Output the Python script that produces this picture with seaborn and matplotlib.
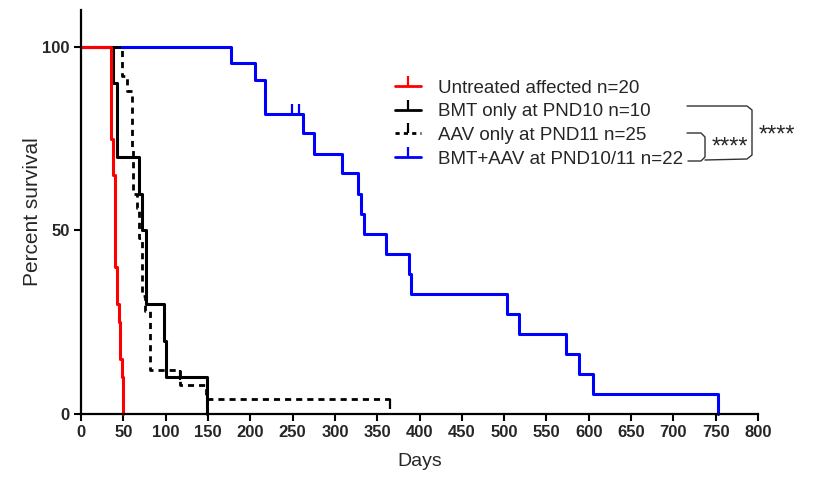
import pandas as pd
import seaborn as sns
import matplotlib.pyplot as plt
from matplotlib.lines import Line2D

# Kaplan-Meier step points (days, percent survival)
untreated_days = [0, 35, 38, 40, 42, 45, 46, 48, 50]
untreated_surv = [100, 75, 65, 40, 30, 25, 15, 10, 0]

bmt_days = [0, 38, 42, 68, 72, 77, 98, 100, 149]
bmt_surv = [100, 90, 70, 60, 50, 30, 20, 10, 0]

aav_days = [0, 49, 54, 60, 62, 66, 69, 72, 76, 81, 117, 148, 365]
aav_surv = [100, 92, 88, 72, 60, 56, 48, 32, 28, 12, 8, 4, 4]
aav_censor_days = [117, 365]
aav_censor_surv = [12, 4]

combo_days = [0, 177, 206, 217, 262, 275, 309, 327, 331, 334, 361, 388, 390,
              503, 518, 573, 588, 605, 753]
combo_surv = [100, 95.5, 90.9, 81.8, 76.4, 70.9, 65.5, 60.0, 54.5, 49.1, 43.6,
              38.2, 32.7, 27.3, 21.8, 16.4, 10.9, 5.5, 0]
combo_censor_days = [249, 258]
combo_censor_surv = [81.8, 81.8]

labels = ['Untreated affected n=20', 'BMT only at PND10 n=10',
          'AAV only at PND11 n=25', 'BMT+AAV at PND10/11 n=22']
colors = ['#ff0000', '#000000', '#000000', '#0000ff']

sns.set_theme(style="ticks")
plt.rcParams['font.family'] = ['Liberation Sans', 'DejaVu Sans']

fig = plt.figure(figsize=(8.15, 4.79), dpi=100)
ax = fig.add_axes([81 / 815, 65 / 479, 677 / 815, 404 / 479])

dfc = pd.DataFrame({'days': combo_days, 'surv': combo_surv})
dfa = pd.DataFrame({'days': aav_days, 'surv': aav_surv})
dfb = pd.DataFrame({'days': bmt_days, 'surv': bmt_surv})
dfu = pd.DataFrame({'days': untreated_days, 'surv': untreated_surv})

sns.lineplot(data=dfc, x='days', y='surv', color=colors[3], lw=2.2,
             drawstyle='steps-post', clip_on=False, ax=ax)
sns.lineplot(data=dfa, x='days', y='surv', color=colors[2], lw=2,
             drawstyle='steps-post', dashes=False, clip_on=False, ax=ax,
             linestyle=(0, (2.2, 1.8)))
sns.lineplot(data=dfb, x='days', y='surv', color=colors[1], lw=2.2,
             drawstyle='steps-post', clip_on=False, ax=ax)
sns.lineplot(data=dfu, x='days', y='surv', color=colors[0], lw=2.2,
             drawstyle='steps-post', clip_on=False, ax=ax)

# censored ticks
ax.plot(combo_censor_days, combo_censor_surv, ls='none', marker=2, ms=7,
        mew=1.6, color=colors[3])
ax.plot(aav_censor_days, aav_censor_surv, ls='none', marker=3, ms=7,
        mew=1.6, color=colors[2])

ax.set_xlim(0, 800)
ax.set_ylim(0, 110)
ax.set_xticks(range(0, 801, 50))
ax.set_yticks([0, 50, 100])
ax.set_xlabel('Days', fontsize=14, labelpad=9)
ax.set_ylabel('Percent survival', fontsize=15, labelpad=0)
for lab in ax.get_xticklabels() + ax.get_yticklabels():
    lab.set_fontweight('bold')
    lab.set_fontsize(12)
ax.tick_params(length=5, width=1.5, color='black', pad=3)
sns.despine(ax=ax)
for s in ['left', 'bottom']:
    ax.spines[s].set_linewidth(1.6)
    ax.spines[s].set_color('black')

handles = [
    Line2D([0], [0], color=colors[0], lw=2, marker=2, ms=7, mew=1.6),
    Line2D([0], [0], color=colors[1], lw=2, marker=2, ms=7, mew=1.6),
    Line2D([0], [0], color=colors[2], lw=2, ls=(0, (1.5, 1.5)), marker=2, ms=7, mew=1.6),
    Line2D([0], [0], color=colors[3], lw=2, marker=2, ms=7, mew=1.6),
]
ax.legend(handles, labels, loc='upper left', bbox_to_anchor=(0.464, 0.828),
          frameon=False, fontsize=13.5, handlelength=1.4, handletextpad=0.9,
          labelspacing=0.35, borderpad=0, borderaxespad=0, numpoints=1)

# significance brackets (pixel positions from top-left of the figure)
def px(x, y):
    return x / 815, 1 - y / 479

big = [(687, 106), (747, 106), (752, 110), (752, 155), (747, 159), (705, 160)]
small = [(687, 133), (701, 133), (705, 137), (705, 157), (701, 161), (688, 161)]
for pts in (big, small):
    xs, ys = zip(*[px(*p) for p in pts])
    fig.add_artist(Line2D(xs, ys, color='#333333', lw=1.0, transform=fig.transFigure))
fig.text(*px(730, 148), '****', ha='center', va='center', fontsize=17)
fig.text(*px(777, 136), '****', ha='center', va='center', fontsize=17)

fig.savefig('out.png', dpi=100)
